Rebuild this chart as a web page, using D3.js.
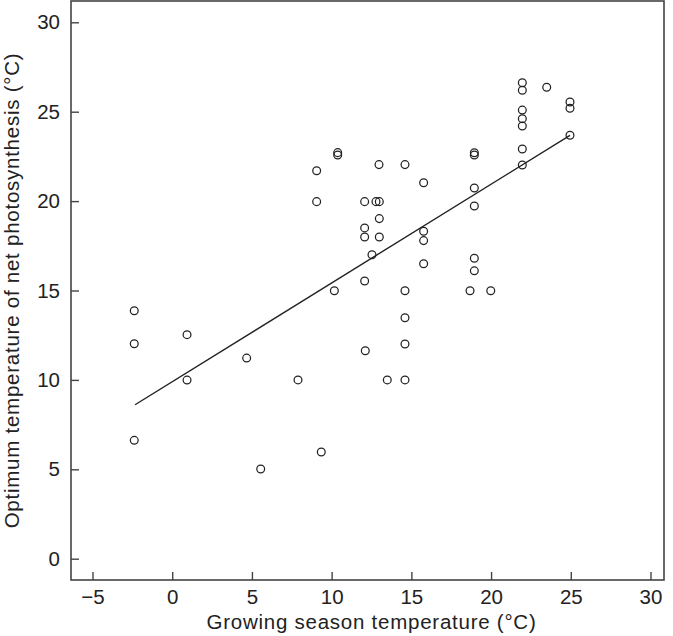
<!DOCTYPE html>
<html>
<head>
<meta charset="utf-8">
<script src="https://cdn.jsdelivr.net/npm/d3@7"></script>
<style>
  html, body { margin: 0; padding: 0; background: #fff; }
  svg { display: block; }
  text { font-family: "Liberation Sans", Arial, sans-serif; fill: #222; }
</style>
</head>
<body>
<svg id="chart" width="673" height="636"></svg>
<script>
// Growing season temperature (°C)
const growingTemp = [
  -2.38, -2.38, -2.38, 0.93, 0.93, 4.67, 5.55, 7.89, 9.06, 9.06,
  9.35, 10.17, 10.38, 10.38, 12.07, 12.07, 12.07, 12.07, 12.11, 12.53,
  12.78, 12.99, 12.97, 12.99, 12.99, 13.49, 14.6, 14.6, 14.6, 14.6,
  14.6, 15.77, 15.77, 15.77, 15.77, 18.68, 18.95, 18.95, 18.95, 18.95,
  18.95, 18.95, 19.98, 21.96, 21.96, 21.96, 21.96, 21.96, 21.96, 21.96,
  23.49, 24.95, 24.95, 24.95
];
// Optimum temperature of net photosynthesis (°C)
const optimumTemp = [
  13.87, 12.02, 6.62, 12.53, 9.99, 11.22, 5.02, 10.0, 21.7, 19.97,
  5.97, 14.99, 22.71, 22.58, 19.97, 18.5, 17.99, 15.53, 11.63, 17.0,
  19.97, 19.97, 22.04, 19.02, 17.99, 10.0, 22.04, 14.99, 13.48, 12.01,
  10.0, 21.03, 18.31, 17.79, 16.5, 14.99, 22.7, 22.58, 20.73, 19.73,
  16.8, 16.1, 14.99, 26.62, 26.2, 25.09, 24.61, 24.2, 22.91, 22.02,
  26.37, 25.54, 25.19, 23.68
];
// Fitted regression line end points
const fitX = [-2.33, 24.95];
const fitY = [8.61, 23.68];

const xTicks = [-5, 0, 5, 10, 15, 20, 25, 30];
const yTicks = [0, 5, 10, 15, 20, 25, 30];

(function () {
const svg = d3.select("#chart");
const mLeft = 71, mRight = 664, mTop = 1, mBottom = 580;

const x = d3.scaleLinear().domain([-5, 30]).range([92.5, 650.5]);
const y = d3.scaleLinear().domain([0, 30]).range([558.7, 22.3]);

// frame
svg.append("rect")
  .attr("x", mLeft).attr("y", mTop)
  .attr("width", mRight - mLeft).attr("height", mBottom - mTop)
  .attr("fill", "none").attr("stroke", "#444").attr("stroke-width", 1.6);

// x axis (ticks pointing inward)
const xAxis = d3.axisBottom(x).tickValues(xTicks).tickSize(-8).tickPadding(9)
  .tickFormat(d => d < 0 ? "\u2212" + Math.abs(d) : d);
const gx = svg.append("g").attr("transform", `translate(0,${mBottom})`).call(xAxis);
gx.select(".domain").remove();
gx.selectAll(".tick line").attr("stroke", "#444").attr("stroke-width", 1.4);
gx.selectAll(".tick text").attr("font-size", 20.5).attr("fill", "#222")
  .attr("font-family", "Liberation Sans, Arial, sans-serif");

// y axis
const yAxis = d3.axisLeft(y).tickValues(yTicks).tickSize(-8).tickPadding(11);
const gy = svg.append("g").attr("transform", `translate(${mLeft},0)`).call(yAxis);
gy.select(".domain").remove();
gy.selectAll(".tick line").attr("stroke", "#444").attr("stroke-width", 1.4);
gy.selectAll(".tick text").attr("font-size", 20.5).attr("fill", "#222")
  .attr("font-family", "Liberation Sans, Arial, sans-serif");

// regression line
svg.append("line")
  .attr("x1", x(fitX[0])).attr("y1", y(fitY[0]))
  .attr("x2", x(fitX[1])).attr("y2", y(fitY[1]))
  .attr("stroke", "#222").attr("stroke-width", 1.4);

// points
svg.append("g").selectAll("circle")
  .data(growingTemp.map((v, i) => [v, optimumTemp[i]]))
  .join("circle")
  .attr("cx", d => x(d[0])).attr("cy", d => y(d[1]))
  .attr("r", 3.9)
  .attr("fill", "none").attr("stroke", "#222").attr("stroke-width", 1.25);

// axis titles
svg.append("text")
  .attr("x", (mLeft + mRight) / 2 + 4).attr("y", 629)
  .attr("text-anchor", "middle").attr("font-size", 20.5)
  .attr("letter-spacing", 0.75)
  .text("Growing season temperature (\u00B0C)");

svg.append("text")
  .attr("transform", `translate(18.5,${(mTop + mBottom) / 2}) rotate(-90)`)
  .attr("text-anchor", "middle").attr("font-size", 20.5)
  .attr("letter-spacing", 0.75)
  .text("Optimum temperature of net photosynthesis (\u00B0C)");
})();
</script>
</body>
</html>
